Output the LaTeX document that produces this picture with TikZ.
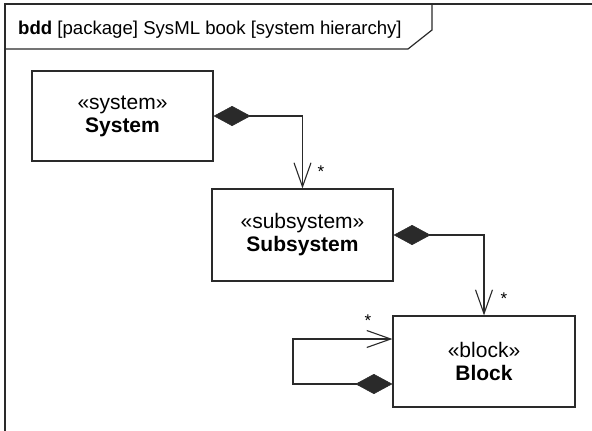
\documentclass[tikz,border=0pt]{standalone}
\usepackage{fontspec}
\setmainfont{Liberation Sans}
\usetikzlibrary{arrows.meta}
\definecolor{ink}{HTML}{2A2A2A}
\tikzset{
  blockbox/.style={draw=ink, line width=1.2pt, fill=white, inner sep=0pt, align=center,
    font=\fontsize{21}{23}\selectfont},
  comp/.style={draw=ink, line width=1.1pt,
    {Diamond[length=37pt,width=20pt,fill=ink,line width=0.5pt]}-{Straight Barb[length=24pt,width=17pt,line width=1.1pt]}},
  mult/.style={font=\fontsize{17}{17}\selectfont, inner sep=0pt},
  frameline/.style={draw=ink, line width=1.2pt}
}
\begin{document}
\begin{tikzpicture}[x=1pt,y=-1pt]
\useasboundingbox (0,0) rectangle (592,431);
\clip (0,0) rectangle (592,431);
% frame
\draw[frameline] (5,440) -- (5,4) -- (600,4);
\draw[frameline] (5,49) -- (408,49) -- (432,30) -- (432,4);
\node[anchor=base west, inner sep=0pt, font=\fontsize{18.6}{20}\selectfont] (hdr) at (18,34.5)
  {\textbf{bdd} [package] SysML book [system hierarchy]};
% blocks
\node[blockbox, minimum width=181pt, minimum height=90pt] (sys) at (122.5,116)
  {«system»\\\textbf{System}};
\node[blockbox, minimum width=181pt, minimum height=92pt] (sub) at (302.5,235)
  {«subsystem»\\\textbf{Subsystem}};
\node[blockbox, minimum width=182pt, minimum height=91pt] (blk) at (484,361.5)
  {«block»\\\textbf{Block}};
% connectors
\draw[comp] (sys.east) -| (sub.north);
\draw[comp] (sub.east) -| (blk.north);
\coordinate (lb) at (293,384);
\coordinate (lt) at (293,339);
\draw[comp] ([yshift=-22.5pt]blk.west) -- (lb) -- (lt) -- ([yshift=22.5pt]blk.west);
% multiplicities
\node[mult] (m1) at (321,172) {*};
\node[mult] (m2) at (504,299) {*};
\node[mult] (m3) at (368,321) {*};
\end{tikzpicture}
\end{document}
